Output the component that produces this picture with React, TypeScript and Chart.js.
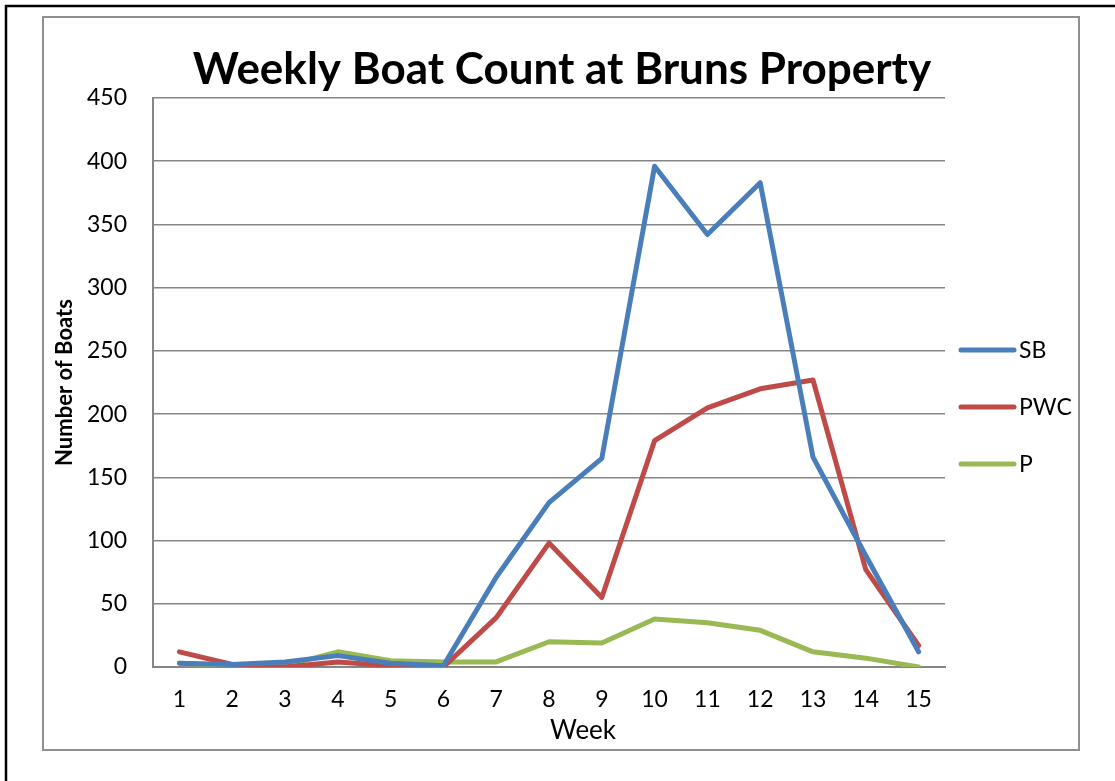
import React, { useEffect, useRef } from "react";
import { Chart, registerables } from "chart.js";

Chart.register(...registerables);

const weeks = ["1", "2", "3", "4", "5", "6", "7", "8", "9", "10", "11", "12", "13", "14", "15"];
const sbValues = [3, 2, 4, 9, 3, 1, 71, 130, 165, 396, 342, 383, 166, 88, 12];
const pwcValues = [12, 2, 0, 4, 1, 0, 39, 98, 55, 179, 205, 220, 227, 77, 17];
const pValues = [3, 1, 1, 12, 5, 4, 4, 20, 19, 38, 35, 29, 12, 7, 0];
const titleText = "Weekly Boat Count at Bruns Property";
const yTitle = "Number of Boats";
const xTitle = "Week";

const FONT = "Lato, 'Open Sans', sans-serif";

const framePlugin = {
  id: "frame",
  beforeDraw(chart: any) {
    const ctx = chart.ctx;
    ctx.save();
    ctx.fillStyle = "#ffffff";
    ctx.fillRect(0, 0, chart.width, chart.height);
    ctx.strokeStyle = "#000000";
    ctx.lineWidth = 2.5;
    ctx.strokeRect(6, 6, chart.width + 20, chart.height + 20);
    ctx.strokeStyle = "#8f8f8f";
    ctx.lineWidth = 2;
    ctx.strokeRect(43, 17, 1036, 733);
    ctx.restore();
  },
  afterDraw(chart: any) {
    const ctx = chart.ctx;
    const area = chart.chartArea;
    ctx.save();
    // title
    ctx.fillStyle = "#000000";
    ctx.font = `bold 44px ${FONT}`;
    ctx.textAlign = "center";
    ctx.textBaseline = "middle";
    ctx.fillText(titleText, 562, 70);
    // x axis title
    ctx.font = `26px ${FONT}`;
    ctx.fillText(xTitle, 583, 731);
    // legend
    ctx.font = `23px ${FONT}`;
    ctx.textAlign = "left";
    const startY = 350;
    const gap = 57;
    chart.data.datasets.forEach((ds: any, i: number) => {
      const y = startY + i * gap;
      ctx.strokeStyle = ds.borderColor;
      ctx.lineWidth = 5;
      ctx.lineCap = "round";
      ctx.beginPath();
      ctx.moveTo(area.right + 16, y);
      ctx.lineTo(area.right + 69, y);
      ctx.stroke();
      ctx.fillStyle = "#000000";
      ctx.fillText(ds.label, area.right + 74, y + 1);
    });
    ctx.restore();
  },
};

export default function App() {
  const ref = useRef<HTMLCanvasElement | null>(null);

  useEffect(() => {
    if (!ref.current) return;
    const lineStyle = {
      borderWidth: 5,
      pointRadius: 0,
      pointHoverRadius: 0,
      borderCapStyle: "round" as const,
      borderJoinStyle: "round" as const,
      tension: 0,
      fill: false,
    };
    const chart = new Chart(ref.current, {
      type: "line",
      data: {
        labels: weeks,
        datasets: [
          { label: "SB", data: sbValues, borderColor: "#4A7EBB", backgroundColor: "#4A7EBB", ...lineStyle },
          { label: "PWC", data: pwcValues, borderColor: "#BE4B48", backgroundColor: "#BE4B48", ...lineStyle },
          { label: "P", data: pValues, borderColor: "#98B954", backgroundColor: "#98B954", ...lineStyle },
        ],
      },
      options: {
        responsive: false,
        animation: false,
        events: [],
        layout: { padding: { left: 43, top: 98, right: 170, bottom: 31 } },
        plugins: {
          legend: { display: false },
          title: { display: false },
          tooltip: { enabled: false },
        },
        scales: {
          x: {
            type: "category",
            offset: true,
            grid: { display: false, drawTicks: false },
            border: { display: true, color: "#868686", width: 2 },
            ticks: {
              color: "#000000",
              font: { family: FONT, size: 23 },
              padding: 19,
              maxRotation: 0,
              autoSkip: false,
            },
            afterFit(scale: any) {
              scale.height = 83;
            },
          },
          y: {
            min: 0,
            max: 450,
            grid: { color: "#868686", lineWidth: 1.5, drawTicks: false },
            border: { display: true, color: "#868686", width: 2 },
            ticks: {
              stepSize: 50,
              color: "#000000",
              font: { family: FONT, size: 23 },
              padding: 26,
            },
            title: {
              display: true,
              text: yTitle,
              color: "#000000",
              font: { family: FONT, size: 22, weight: "bold" },
              padding: { top: 9, bottom: 0 },
            },
            afterFit(scale: any) {
              scale.width = 110;
            },
          },
        },
      },
      plugins: [framePlugin],
    });
    return () => chart.destroy();
  }, []);

  return (
    <div style={{ position: "absolute", left: 0, top: 0, width: 1115, height: 781 }}>
      <canvas ref={ref} width={1115} height={781} style={{ display: "block" }} />
    </div>
  );
}
